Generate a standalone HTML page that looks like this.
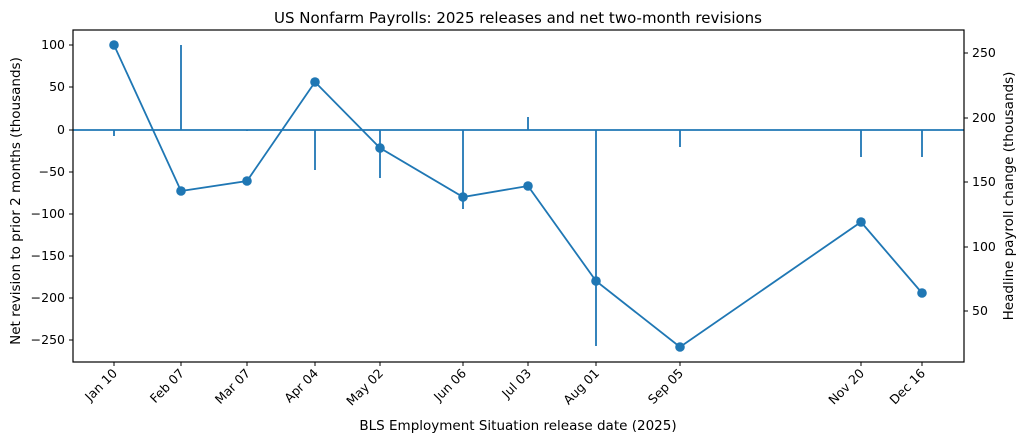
<!DOCTYPE html>
<html><head><meta charset="utf-8"><style>
body{margin:0;background:#fff;}
text{font-family:"DejaVu Sans","Liberation Sans",sans-serif;fill:#000;}
</style></head><body>
<svg width="1024" height="442" viewBox="0 0 1024 442" xmlns="http://www.w3.org/2000/svg">
<text x="518" y="23" font-size="15" text-anchor="middle">US Nonfarm Payrolls: 2025 releases and net two-month revisions</text>
<g stroke="#1f77b4" stroke-width="1.8" fill="none">
<line x1="73" y1="130" x2="964" y2="130"/>
<line x1="114" y1="130" x2="114" y2="136"/>
<line x1="181" y1="130" x2="181" y2="45"/>
<line x1="247" y1="130" x2="247" y2="131"/>
<line x1="315" y1="130" x2="315" y2="170"/>
<line x1="380" y1="130" x2="380" y2="178"/>
<line x1="463" y1="130" x2="463" y2="209"/>
<line x1="528" y1="130" x2="528" y2="117"/>
<line x1="596" y1="130" x2="596" y2="346"/>
<line x1="680" y1="130" x2="680" y2="147"/>
<line x1="861" y1="130" x2="861" y2="157"/>
<line x1="922" y1="130" x2="922" y2="157"/>
<polyline points="114,45 181,191 247,181 315,82 380,148 463,197 528,186 596,281 680,347 861,222 922,293"/>
</g>
<g fill="#1f77b4">
<circle cx="114" cy="45" r="4.8"/><circle cx="181" cy="191" r="4.8"/><circle cx="247" cy="181" r="4.8"/><circle cx="315" cy="82" r="4.8"/><circle cx="380" cy="148" r="4.8"/><circle cx="463" cy="197" r="4.8"/><circle cx="528" cy="186" r="4.8"/><circle cx="596" cy="281" r="4.8"/><circle cx="680" cy="347" r="4.8"/><circle cx="861" cy="222" r="4.8"/><circle cx="922" cy="293" r="4.8"/>
</g>
<rect x="73" y="30" width="891" height="332" fill="none" stroke="#000" stroke-width="1.2"/>
<g stroke="#000" stroke-width="1">
<line x1="69" y1="45" x2="73" y2="45"/><line x1="69" y1="87" x2="73" y2="87"/><line x1="69" y1="130" x2="73" y2="130"/><line x1="69" y1="172" x2="73" y2="172"/><line x1="69" y1="214" x2="73" y2="214"/><line x1="69" y1="256" x2="73" y2="256"/><line x1="69" y1="298" x2="73" y2="298"/><line x1="69" y1="340" x2="73" y2="340"/>
<line x1="964" y1="53" x2="968" y2="53"/><line x1="964" y1="118" x2="968" y2="118"/><line x1="964" y1="182" x2="968" y2="182"/><line x1="964" y1="247" x2="968" y2="247"/><line x1="964" y1="311" x2="968" y2="311"/>
<line x1="114" y1="362" x2="114" y2="366"/><line x1="181" y1="362" x2="181" y2="366"/><line x1="247" y1="362" x2="247" y2="366"/><line x1="315" y1="362" x2="315" y2="366"/><line x1="380" y1="362" x2="380" y2="366"/><line x1="463" y1="362" x2="463" y2="366"/><line x1="528" y1="362" x2="528" y2="366"/><line x1="596" y1="362" x2="596" y2="366"/><line x1="680" y1="362" x2="680" y2="366"/><line x1="861" y1="362" x2="861" y2="366"/><line x1="922" y1="362" x2="922" y2="366"/>
</g>
<g font-size="12.5" text-anchor="end">
<text x="65" y="49">100</text><text x="65" y="91">50</text><text x="65" y="134">0</text><text x="65" y="176">−50</text><text x="65" y="218">−100</text><text x="65" y="260">−150</text><text x="65" y="302">−200</text><text x="65" y="344">−250</text>
</g>
<g font-size="12.5">
<text x="972" y="57">250</text><text x="972" y="122">200</text><text x="972" y="186">150</text><text x="972" y="251">100</text><text x="972" y="315">50</text>
</g>
<g font-size="12.5" text-anchor="end">
<text transform="translate(118,374) rotate(-45)">Jan 10</text>
<text transform="translate(185,374) rotate(-45)">Feb 07</text>
<text transform="translate(251,374) rotate(-45)">Mar 07</text>
<text transform="translate(319,374) rotate(-45)">Apr 04</text>
<text transform="translate(384,374) rotate(-45)">May 02</text>
<text transform="translate(467,374) rotate(-45)">Jun 06</text>
<text transform="translate(532,374) rotate(-45)">Jul 03</text>
<text transform="translate(600,374) rotate(-45)">Aug 01</text>
<text transform="translate(684,374) rotate(-45)">Sep 05</text>
<text transform="translate(865,374) rotate(-45)">Nov 20</text>
<text transform="translate(926,374) rotate(-45)">Dec 16</text>
</g>
<text x="518" y="430" font-size="13.5" text-anchor="middle">BLS Employment Situation release date (2025)</text>
<text transform="translate(20,201) rotate(-90)" font-size="13.5" text-anchor="middle">Net revision to prior 2 months (thousands)</text>
<text transform="translate(1013,196) rotate(-90)" font-size="13.5" text-anchor="middle">Headline payroll change (thousands)</text>
</svg>
</body></html>
